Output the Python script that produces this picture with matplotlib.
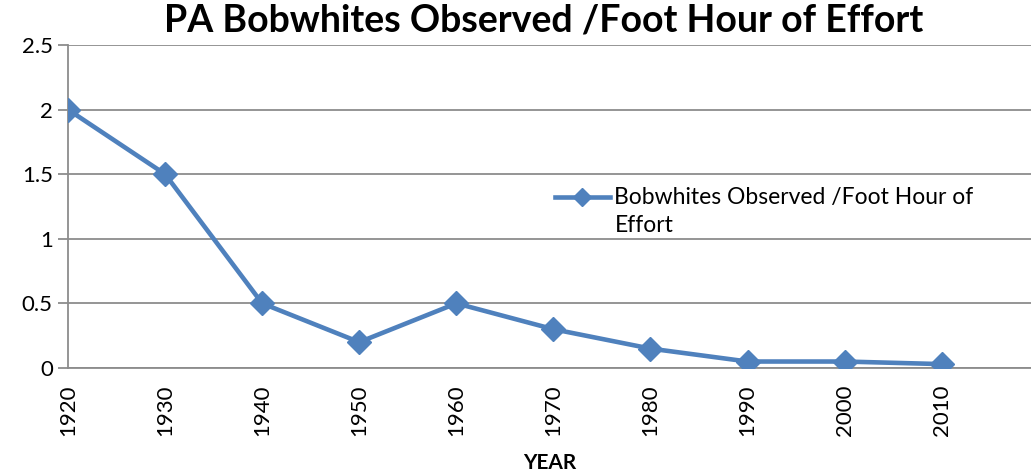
import matplotlib
matplotlib.use("Agg")
import matplotlib.pyplot as plt
import numpy as np

years = ["1920", "1930", "1940", "1950", "1960", "1970", "1980", "1990", "2000", "2010"]
birds_per_hour = [2.0, 1.5, 0.5, 0.2, 0.5, 0.3, 0.15, 0.05, 0.05, 0.03]
series_label = "Bobwhites Observed /Foot Hour of\nEffort"

plt.rcParams['font.family'] = ['Lato', 'DejaVu Sans']

fig = plt.figure(figsize=(10.31, 4.75), dpi=100)
ax = fig.add_axes([0.066, 0.2253, 0.934, 0.68])

x = list(range(len(years)))
ax.plot(x, birds_per_hour, color="#4F81BD", lw=3.3, marker="D", ms=12,
        label=series_label, zorder=3)

ax.set_xlim(0, 9.92)
ax.set_ylim(0, 2.5)
ax.set_yticks([0, 0.5, 1, 1.5, 2, 2.5])
ax.set_yticklabels(["0", "0.5", "1", "1.5", "2", "2.5"])
ax.set_xticks(x)
ax.set_xticklabels(years, rotation=90)
ax.grid(axis="y", color="#8c8c8c", lw=1.3)
ax.set_axisbelow(True)

for side in ["top", "right"]:
    ax.spines[side].set_visible(False)
for side in ["left", "bottom"]:
    ax.spines[side].set_color("#8c8c8c")
    ax.spines[side].set_linewidth(1.3)
ax.tick_params(axis="y", length=7, color="#8c8c8c", width=1.3, labelsize=16, pad=4)
ax.tick_params(axis="x", length=0, labelsize=16, pad=12)

ax.set_xlabel("YEAR", fontsize=15, fontweight="bold", labelpad=12)
fig.suptitle("PA Bobwhites Observed /Foot Hour of Effort", fontsize=27,
             fontweight="bold", x=0.527, y=0.992, va="top")

leg = ax.legend(loc="upper left", bbox_to_anchor=(0.496, 0.59), frameon=False,
                fontsize=16.5, handlelength=2.4, handletextpad=0.2, borderaxespad=0)
for t in leg.get_texts():
    t.set_linespacing(1.45)
# lift the handle onto the first text line (units are points)
handle = leg.get_lines()[0]
handle.set_markersize(9)
handle.set_ydata(np.asarray(handle.get_ydata()) + 10.5)

fig.savefig("out.png", dpi=100)
